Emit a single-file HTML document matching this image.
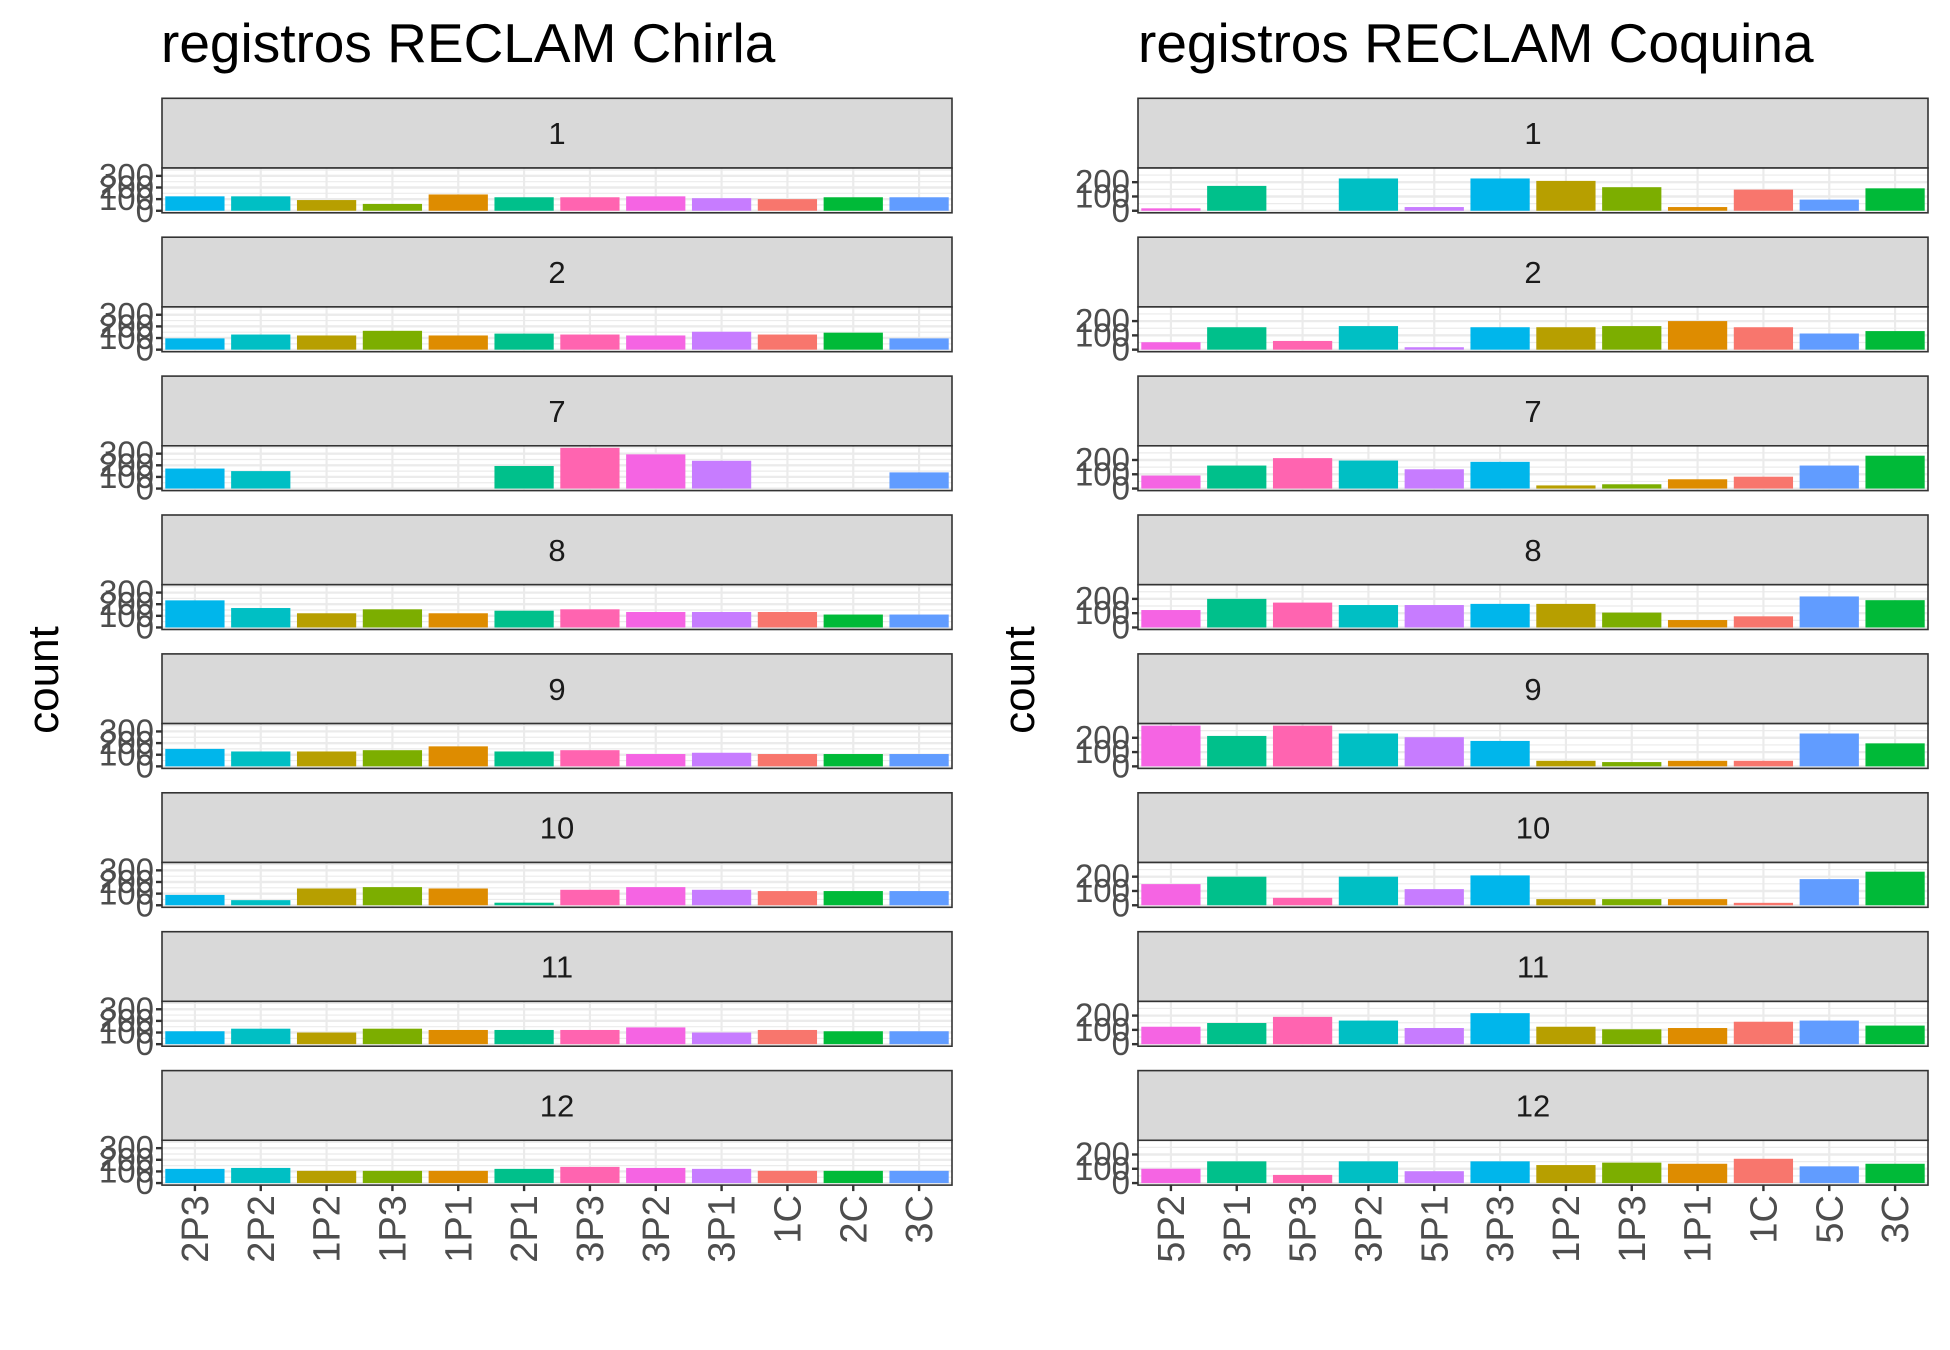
<!DOCTYPE html>
<html><head><meta charset="utf-8"><style>
html,body{margin:0;padding:0;background:#fff}
svg{display:block}
text{font-family:"Liberation Sans",sans-serif}
</style></head><body>
<svg id="chart" width="1950" height="1350" viewBox="0 0 1950 1350" xmlns="http://www.w3.org/2000/svg">
<rect x="0" y="0" width="1950" height="1350" fill="#fff"/>
<text x="161" y="62" font-size="55" fill="#000">registros RECLAM Chirla</text>
<text x="1138" y="62" font-size="55" fill="#000">registros RECLAM Coquina</text>
<text transform="translate(58,680) rotate(-90)" text-anchor="middle" font-size="44" fill="#000">count</text>
<text transform="translate(1034,680) rotate(-90)" text-anchor="middle" font-size="44" fill="#000">count</text>
<g id="plots"></g>
</svg>
<script>
const months = ["1","2","7","8","9","10","11","12"];
const chirlaCats = ["2P3","2P2","1P2","1P3","1P1","2P1","3P3","3P2","3P1","1C","2C","3C"];
const chirlaColors = ["#00B6EB","#00BFC4","#B79F00","#7CAE00","#DE8C00","#00C08B","#FF64B0","#F564E3","#C77CFF","#F8766D","#00BA38","#619CFF"];
const chirlaM1 = [124,124,92,59,140,116,116,124,108,100,116,116];
const chirlaM2 = [97,130,122,162,122,138,130,122,154,130,146,97];
const chirlaM7 = [172,150,0,0,0,194,350,294,239,0,0,139];
const chirlaM8 = [233,167,122,156,122,144,156,133,133,133,111,111];
const chirlaM9 = [150,128,128,139,172,128,139,106,117,106,106,106];
const chirlaM10 = [89,44,144,156,144,22,133,156,133,122,122,122];
const chirlaM11 = [111,133,100,133,122,122,122,144,100,122,111,111];
const chirlaM12 = [122,130,105,105,105,122,139,130,122,105,105,105];
const chirlaTicks = [0,100,200,300];
const coqCats = ["5P2","3P1","5P3","3P2","5P1","3P3","1P2","1P3","1P1","1C","5C","3C"];
const coqColors = ["#F564E3","#00C08B","#FF64B0","#00BFC4","#C77CFF","#00B6EB","#B79F00","#7CAE00","#DE8C00","#F8766D","#619CFF","#00BA38"];
const coqM1 = [17,174,0,226,26,226,209,165,26,148,78,157];
const coqM2 = [52,157,61,165,17,157,157,165,200,157,113,130];
const coqM7 = [91,161,213,196,135,187,22,30,65,83,161,230];
const coqM8 = [122,200,174,157,157,165,165,104,52,78,217,191];
const coqM9 = [285,213,285,230,204,178,39,30,39,39,230,161];
const coqM10 = [148,200,52,200,113,209,43,43,43,17,183,235];
const coqM11 = [122,148,191,165,113,217,122,104,113,157,165,130];
const coqM12 = [100,152,57,152,83,152,126,143,135,170,117,135];
const coqTicks = [0,100,200];

const NS="http://www.w3.org/2000/svg";
const root=document.getElementById('plots');
function mk(tag,attrs,parent){const e=document.createElementNS(NS,tag);for(const k in attrs)e.setAttribute(k,attrs[k]);(parent||root).appendChild(e);return e;}

function drawFacet(side,x0,x1,cats,colors,series,ticks){
  const ymax=Math.max(...series.flat());
  const lo=-0.05*ymax, hi=ymax*1.05;
  const n=cats.length, band=(x1-x0)/n;
  const xc=i=>x0+band*(i+0.5);
  const stripH=69.7, panelH=44.8, period=138.9, top0=98.3;
  series.forEach((vals,m)=>{
    const st=top0+m*period, pt=st+stripH, pb=pt+panelH;
    const y=v=>pb-(v-lo)/(hi-lo)*panelH;
    const g=mk('g',{});
    
    
    const strip=mk('rect',{x:x0,y:st,width:x1-x0,height:stripH,fill:'#D9D9D9',stroke:'#333','stroke-width':1.6},g);
    
    
    const lab=mk('text',{x:(x0+x1)/2,y:st+stripH/2+11,'text-anchor':'middle','font-size':31,fill:'#1A1A1A'},g);
    lab.textContent=months[m];
    
    
    mk('rect',{x:x0,y:pt,width:x1-x0,height:panelH,fill:'#fff'},g);
    const step=ticks[1]-ticks[0];
    for(let t=ticks[0]+step/2;t<=hi;t+=step/2){const yy=y(t);if(yy>pt&&yy<pb)mk('line',{x1:x0,x2:x1,y1:yy,y2:yy,stroke:'#EBEBEB','stroke-width':(t%step===0)?2.2:1.2},g);}
    ticks.forEach(t=>{const yy=y(t);if(yy>=pt-6&&yy<=pb+1){
      mk('line',{x1:x0,x2:x1,y1:yy,y2:yy,stroke:'#EBEBEB','stroke-width':2.2},g);
      mk('line',{x1:x0-6,x2:x0,y1:yy,y2:yy,stroke:'#333','stroke-width':2.4},g);
      const tl=mk('text',{x:x0-8,y:yy+11,'text-anchor':'end','font-size':33,fill:'#4D4D4D'},g);
      tl.textContent=t;
      
      
    }});
    cats.forEach((c,i)=>mk('line',{x1:xc(i),x2:xc(i),y1:pt,y2:pb,stroke:'#EBEBEB','stroke-width':2.2},g));
    vals.forEach((v,i)=>{
      if(v<=0)return;
      const b=mk('rect',{x:xc(i)-band*0.45,width:band*0.9,y:y(v),height:y(0)-y(v),fill:colors[i]},g);
      
      
    });
    mk('rect',{x:x0,y:pt,width:x1-x0,height:panelH,fill:'none',stroke:'#333','stroke-width':1.6},g);
    if(m===series.length-1){
      cats.forEach((c,i)=>{
        mk('line',{x1:xc(i),x2:xc(i),y1:pb,y2:pb+6,stroke:'#333','stroke-width':2.4},g);
        const xl=mk('text',{transform:`translate(${xc(i)+13},${pb+10}) rotate(-90)`,'text-anchor':'end','font-size':38,fill:'#4D4D4D'},g);
        xl.textContent=c;
        
        
      });
    }
  });
}
drawFacet('chirla',162,952,chirlaCats,chirlaColors,[chirlaM1,chirlaM2,chirlaM7,chirlaM8,chirlaM9,chirlaM10,chirlaM11,chirlaM12],chirlaTicks);
drawFacet('coquina',1138,1928,coqCats,coqColors,[coqM1,coqM2,coqM7,coqM8,coqM9,coqM10,coqM11,coqM12],coqTicks);
</script>
</body></html>
